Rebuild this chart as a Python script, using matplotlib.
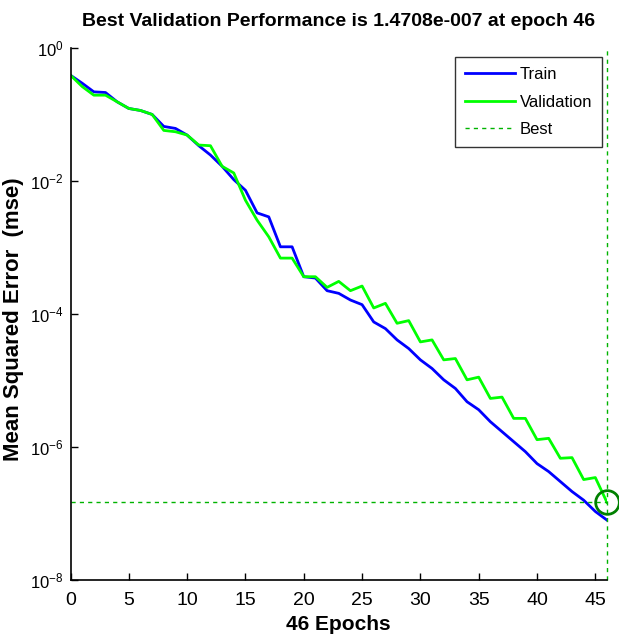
import numpy as np
import matplotlib
matplotlib.use("Agg")
import matplotlib.pyplot as plt

# values (log10 of mse per epoch)
epochs = list(range(47))
train_log = [-0.41, -0.53, -0.66, -0.67, -0.81, -0.91, -0.94, -1.00, -1.18, -1.21,
             -1.31, -1.47, -1.61, -1.78, -1.98, -2.14, -2.48, -2.54, -2.99, -2.99,
             -3.44, -3.46, -3.65, -3.69, -3.79, -3.86, -4.12, -4.22, -4.39, -4.52,
             -4.69, -4.82, -4.99, -5.12, -5.32, -5.44, -5.62, -5.77, -5.92, -6.07,
             -6.25, -6.37, -6.52, -6.67, -6.80, -6.97, -7.10]
val_log = [-0.41, -0.58, -0.71, -0.71, -0.81, -0.91, -0.94, -1.00, -1.24, -1.26,
           -1.31, -1.46, -1.47, -1.78, -1.88, -2.29, -2.59, -2.84, -3.16, -3.16,
           -3.44, -3.44, -3.60, -3.51, -3.65, -3.58, -3.91, -3.84, -4.14, -4.10,
           -4.42, -4.39, -4.69, -4.67, -4.99, -4.95, -5.27, -5.25, -5.57, -5.57,
           -5.89, -5.87, -6.17, -6.16, -6.49, -6.46, -6.8325]
best_epoch = 46
best_perf = 1.4708e-7
xticks = [0, 5, 10, 15, 20, 25, 30, 35, 40, 45]
yticks = [1e0, 1e-2, 1e-4, 1e-6, 1e-8]

train = 10 ** np.array(train_log)
val = 10 ** np.array(val_log)

plt.rcParams['font.family'] = 'Liberation Sans'
plt.rcParams['mathtext.default'] = 'regular'

fig = plt.figure(figsize=(6.19, 6.42), dpi=100)
ax = fig.add_axes([0.1139, 0.0966, 0.8667, 0.8287])

best_col = (0, 0.7, 0)
ax.plot(epochs, train, color=(0, 0, 1), lw=2, label='Train')
ax.plot(epochs, val, color=(0, 1, 0), lw=2, label='Validation')
ax.plot([0, best_epoch], [best_perf, best_perf], color=best_col, lw=1, ls=(0, (3, 3)), label='Best')
ax.plot([best_epoch, best_epoch], [1e-8, 1e0], color=best_col, lw=1, ls=(0, (3, 3)), clip_on=False)
ax.plot([best_epoch], [best_perf], 'o', ms=17, mfc='none', mec=(0, 0.5, 0), mew=2, clip_on=False)

ax.set_yscale('log')
ax.set_xlim(0, 46)
ax.set_ylim(1e-8, 1e0)
ax.set_xticks(xticks)
ax.set_yticks(yticks)
ax.minorticks_off()
ax.tick_params(direction='in', length=5, labelsize=14, width=1)
ax.tick_params(axis='x', pad=9)
ax.tick_params(axis='y', pad=5, labelsize=12)
ax.spines['top'].set_visible(False)
ax.spines['right'].set_visible(False)
for s in ['left', 'bottom']:
    ax.spines[s].set_linewidth(1.2)

ax.set_title('Best Validation Performance is 1.4708e-007 at epoch 46',
             fontsize=14, fontweight='bold', pad=16)
ax.set_xlabel('46 Epochs', fontsize=15, fontweight='bold', labelpad=4)
ax.set_ylabel('Mean Squared Error  (mse)', fontsize=16, fontweight='bold')
ax.yaxis.set_label_coords(-0.086, 0.49)

leg = ax.legend(loc='upper right', bbox_to_anchor=(0.991, 0.983), fontsize=12,
                frameon=True, fancybox=False, edgecolor='black', handlelength=3,
                handletextpad=0.3, borderaxespad=0, labelspacing=0.75, borderpad=0.6)
leg.get_frame().set_linewidth(1)

fig.savefig('out.png', dpi=100)
